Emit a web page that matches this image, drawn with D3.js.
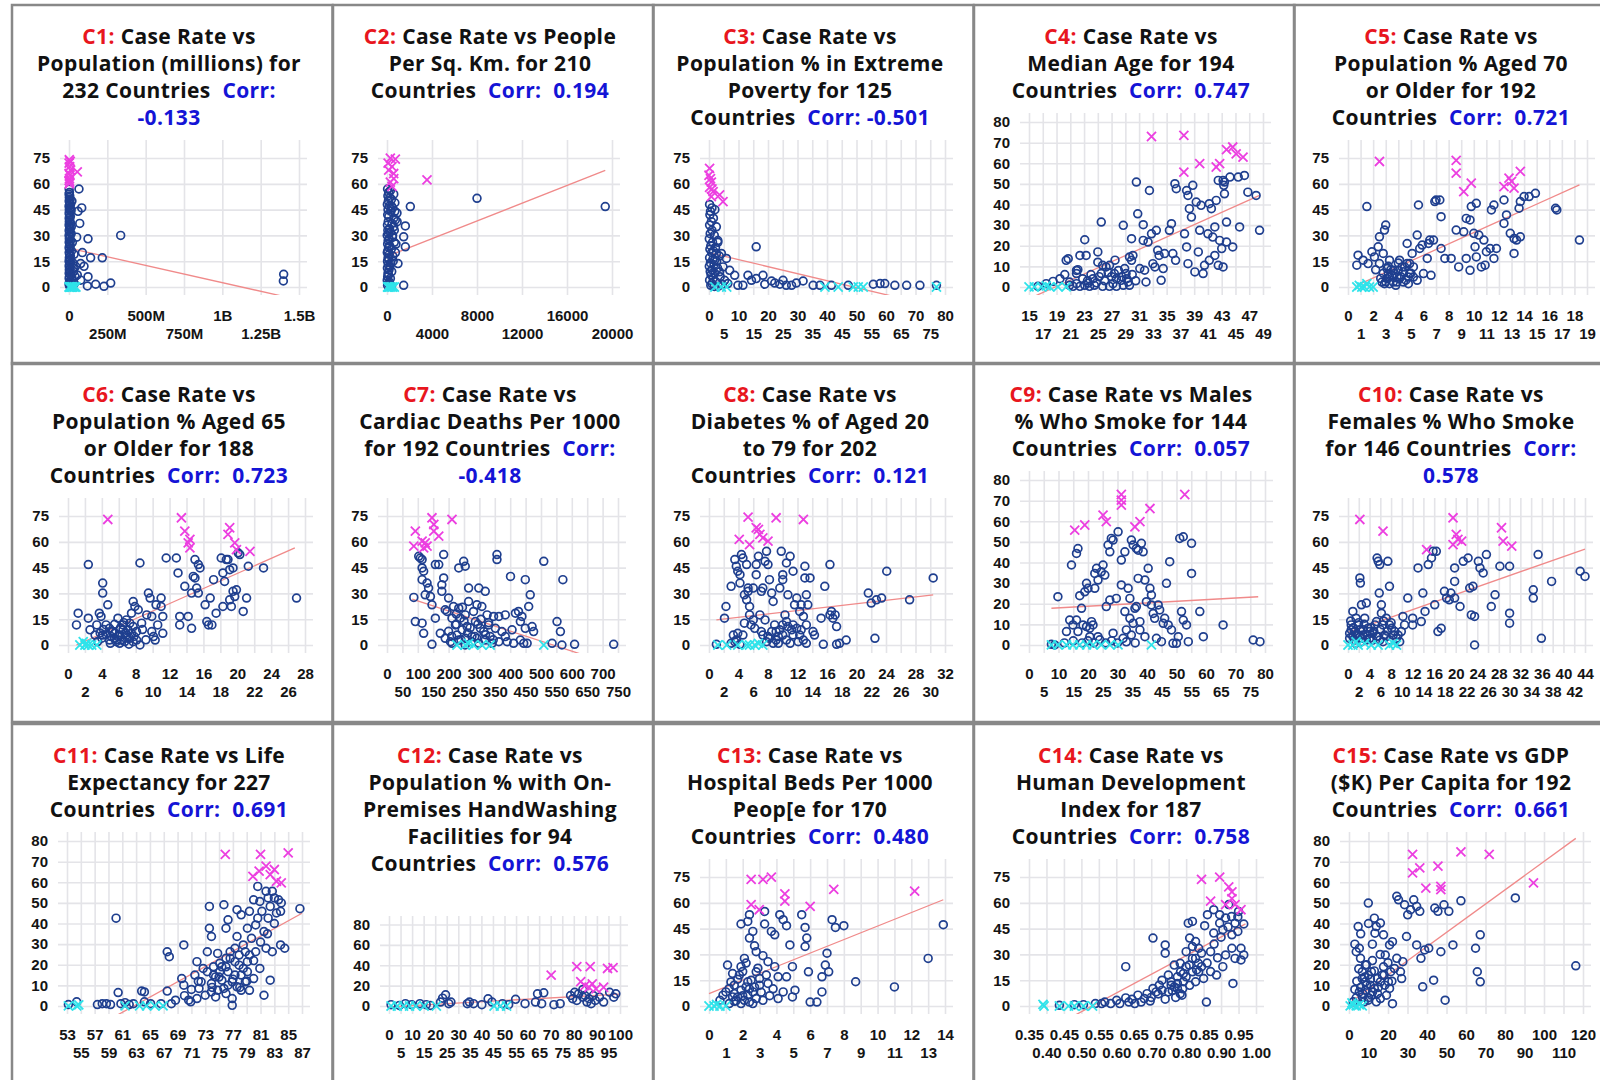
<!DOCTYPE html>
<html><head><meta charset="utf-8">
<script src="https://cdn.jsdelivr.net/npm/d3@7"></script>
<style>
body{margin:0;background:#fff}
svg{display:block}
.title{font-family:"Open Sans",sans-serif;font-weight:700;font-size:21px;letter-spacing:0.4px;white-space:pre}
</style></head><body><svg id="chart" width="1600" height="1080"></svg>
<script>
// ---------- DATA ----------
const yTicks75=[0,15,30,45,60,75];
const yTicks80=[0,10,20,30,40,50,60,70,80];
const yTicks12=[0,20,40,60,80];

const c1XTicks=[0,250,500,750,1000,1250,1500];
const c1XLabels=["0","250M","500M","750M","1B","1.25B","1.5B"];
const c2XTicks=[0,4000,8000,12000,16000,20000];
const c3XTicks=[0,5,10,15,20,25,30,35,40,45,50,55,60,65,70,75,80];
const c4XTicks=[15,17,19,21,23,25,27,29,31,33,35,37,39,41,43,45,47,49];
const c5XTicks=[0,1,2,3,4,5,6,7,8,9,10,11,12,13,14,15,16,17,18,19];
const c6XTicks=[0,2,4,6,8,10,12,14,16,18,20,22,24,26,28];
const c7XTicks=[0,50,100,150,200,250,300,350,400,450,500,550,600,650,700,750];
const c8XTicks=[0,2,4,6,8,10,12,14,16,18,20,22,24,26,28,30,32];
const c9XTicks=[0,5,10,15,20,25,30,35,40,45,50,55,60,65,70,75,80];
const c10XTicks=[0,2,4,6,8,10,12,14,16,18,20,22,24,26,28,30,32,34,36,38,40,42,44];
const c11XTicks=[53,55,57,59,61,63,65,67,69,71,73,75,77,79,81,83,85,87];
const c12XTicks=[0,5,10,15,20,25,30,35,40,45,50,55,60,65,70,75,80,85,90,95,100];
const c13XTicks=[0,1,2,3,4,5,6,7,8,9,10,11,12,13,14];
const c14XTicks=[0.35,0.40,0.45,0.50,0.55,0.60,0.65,0.70,0.75,0.80,0.85,0.90,0.95,1.00];
const c14XLabels=["0.35","0.40","0.45","0.50","0.55","0.60","0.65","0.70","0.75","0.80","0.85","0.90","0.95","1.00"];
const c15XTicks=[0,10,20,30,40,50,60,70,80,90,100,110,120];

const titles=[
 ["C1: Case Rate vs","Population (millions) for","232 Countries  Corr:","-0.133"],
 ["C2: Case Rate vs People","Per Sq. Km. for 210","Countries  Corr:  0.194"],
 ["C3: Case Rate vs","Population % in Extreme","Poverty for 125","Countries  Corr: -0.501"],
 ["C4: Case Rate vs","Median Age for 194","Countries  Corr:  0.747"],
 ["C5: Case Rate vs","Population % Aged 70","or Older for 192","Countries  Corr:  0.721"],
 ["C6: Case Rate vs","Population % Aged 65","or Older for 188","Countries  Corr:  0.723"],
 ["C7: Case Rate vs","Cardiac Deaths Per 1000","for 192 Countries  Corr:","-0.418"],
 ["C8: Case Rate vs","Diabetes % of Aged 20","to 79 for 202","Countries  Corr:  0.121"],
 ["C9: Case Rate vs Males","% Who Smoke for 144","Countries  Corr:  0.057"],
 ["C10: Case Rate vs","Females % Who Smoke","for 146 Countries  Corr:","0.578"],
 ["C11: Case Rate vs Life","Expectancy for 227","Countries  Corr:  0.691"],
 ["C12: Case Rate vs","Population % with On-","Premises HandWashing","Facilities for 94","Countries  Corr:  0.576"],
 ["C13: Case Rate vs","Hospital Beds Per 1000","Peop[e for 170","Countries  Corr:  0.480"],
 ["C14: Case Rate vs","Human Development","Index for 187","Countries  Corr:  0.758"],
 ["C15: Case Rate vs GDP","($K) Per Capita for 192","Countries  Corr:  0.661"]
];

// C1 population (millions)
const c1Blue=[[1,57],[3,55],[0.5,54],[5,53],[2,52],[8,51],[1,50],[4,49],[10,48],[0.3,47],[6,46],[2,45],[12,44],[0.8,43],[3,42],[9,41],[1,40],[5,39],[2,38],[11,37],[0.6,36],[4,35],[7,34],[1,33],[3,32],[14,31],[0.4,30],[6,29],[2,28],[10,27],[1,26],[5,25],[8,24],[0.7,23],[3,22],[16,21],[1,20],[4,19],[9,18],[2,17],[6,16],[0.5,15],[12,14],[3,13],[1,12],[7,11],[2,10],[5,9],[0.9,8],[11,7],[3,6],[1,5],[18,4],[4,3],[0.6,2],[8,1.5],[2,1],[6,0.5],[25,14],[30,9],[20,5],[35,2],[28,11],[22,26],[15,35],[33,19],[40,6],[13,45],[19,50],
 [65,57],[83,46],[59,44],[70,37],[50,29],[124,28],[87,20],[141,17],[217,17],[337,30],[98,12],[124,6],[120,0.6],[174,1.6],[228,0.4],[272,2.3],[76,4],[76,13.6],[43,12],[54,7],[1400,7.4],[1398,3.5]];
const c1Mag=[[2,74],[8,73],[1,72],[4,70],[10,68],[0.5,66],[6,65],[3,63],[1,62],[5,61],[2,60],[54,67]];
const c1Cyan=[[1,0],[5,0],[10,0],[15,0],[25,0],[35,0],[45,0],[20,0],[3,0]];
const c1Fit=[0,22.6,1500,-7.5];

// C2 people per sq km
const c2Blue=[[50,57],[300,56],[150,55],[600,54],[80,53],[250,52],[400,51],[120,50],[700,49],[30,48],[200,47],[500,46],[90,45],[350,44],[889,43],[60,42],[160,41],[741,39],[110,38],[450,37],[40,36],[593,35],[220,34],[75,33],[300,32],[130,31],[20,30],[480,29],[180,28],[100,27],[650,26],[55,25],[240,24],[140,23],[380,22],[70,21],[25,20],[200,19],[520,18],[95,17],[160,16],[45,15],[330,14],[978,13.6],[110,13],[260,12],[35,11],[180,10],[420,9],[85,8],[140,7],[60,6],[300,5],[20,4],[200,3],[120,2],[50,1],[400,0.5],[1481,1],[2074,46.8],[1630,35.5],[1481,29.2],[1630,23.4],[8000,51.6],[19400,46.8],[600,40],[700,44],[500,30],[800,25],[400,47],[650,33],[900,38],[550,15],[750,20]];
const c2Mag=[[296,75],[741,74.4],[444,70],[593,66],[296,61],[444,58.5],[150,68],[600,63],[3556,62.3],[100,72]];
const c2Cyan=[[50,0],[200,0],[350,0],[500,0],[120,0],[650,0]];
const c2Fit=[0,17.8,19400,67.8];

// C3 extreme poverty %
const c3Blue=[[0.2,48],[1,46],[0.5,44],[2,45],[0.3,42],[1.5,40],[0.8,38],[0.2,36],[2.5,35],[1,33],[0.4,31],[1.8,30],[0.1,28],[3,27],[1.2,26],[0.6,24],[2.2,23],[0.3,22],[1.5,21],[0.9,20],[3.5,18],[0.2,17],[1.3,16],[2.6,15],[0.5,14],[1.7,13],[0.1,12],[2.9,11],[1,10],[0.4,9],[2,8],[0.7,7],[3.8,6],[1.4,5],[0.2,4],[2.4,3],[1,2],[0.6,1],[3.2,0.5],[1.8,0.3],[4.5,1.5],
 [3,26],[5.9,16.6],[4.75,11.7],[7,9.7],[8.7,6.8],[9.8,1],[11.5,1],[13.2,6.8],[14.4,3.9],[16,23.4],[16,4.9],[18.3,6.8],[18.9,1.6],[21.2,3.5],[22.3,2.3],[24,1.6],[25.1,3.9],[26.2,1],[28,1],[29.6,2.3],[31.9,3.5],[35.3,1],[37.6,1],[41.5,1],[47.2,1],[55.7,1.6],[58,2],[59.6,2],[63,1],[67,1],[71.5,1],[77.1,1],[5.3,3.9],[6.4,2],[3.6,8.8],[2.5,19.5],[1.9,15.6],[4.2,19.5]];
const c3Mag=[[0.2,69],[0,65],[0.8,61],[0.2,58],[1.4,55.5],[3.6,53.6],[4.75,49.7],[0.8,52.6],[0.5,63],[1,57]];
const c3Cyan=[[4.2,0],[39.3,0],[43.8,0],[48.9,0],[50.6,0],[52.3,0],[77.1,0],[2,0],[6,0]];
const c3Fit=[0,20,77,-11.4];

// C4 median age
const c4Blue=[[16.3,0.3],[17.5,1.6],[18.5,2.7],[19.5,4],[20.2,6],[20.4,12.9],[20.7,13.7],[21.9,6.5],[21.9,8],[22.1,8.4],[23.1,22.9],[22.4,15.3],[23.3,15.3],[22.8,4],[23.6,1.9],[23.1,0.8],[24.3,4],[25,17],[25.5,31.5],[25.5,6.5],[25.7,10.5],[26.2,9.7],[26.7,10.5],[27.2,1.6],[27.4,6.5],[27.7,4],[28.4,3.2],[28.7,29.9],[28.9,8.9],[29.1,6.5],[29.4,2.4],[29.6,14.5],[29.9,12.9],[30.1,15.3],[29.9,23.4],[30.6,50.9],[30.8,35.5],[31.1,8.9],[31.6,22.6],[31.6,30.2],[31.8,8.1],[32,2.4],[32.3,21.8],[32.5,46.8],[32.8,25.8],[33,11.3],[33.3,9.7],[33.5,27.5],[33.7,17.8],[33.9,15.3],[34.2,3.2],[34.5,8.9],[34.7,16.2],[35.4,27.5],[35.7,30.7],[35.9,16.2],[36.2,50.1],[36.4,47.7],[36.3,12.9],[37.6,25.8],[37.9,19.4],[37.9,46.8],[38.1,44.4],[38.1,11.3],[38.3,38],[38.6,33.9],[38.8,49.3],[39.1,7.3],[39.3,41.2],[39.6,17],[39.8,27.5],[40,39.6],[40.3,6.5],[40.5,10.5],[41,25.8],[41.2,40.4],[41.2,12.9],[41.5,38],[41.7,24.2],[42,15.3],[42.2,42],[42.5,51.7],[42.5,10.5],[42.7,22.6],[43,18.6],[43.2,9.7],[43.3,49.3],[43.4,50.9],[43.4,45.2],[43.7,31.5],[43.7,21.8],[44.2,53.3],[44.6,19.4],[45.4,53.3],[45.6,29.1],[46.3,54.1],[46.8,46],[48,44.4],[48.5,27.5],[43.2,51.7],[42,29.1],
 [20.9,0.8],[21.4,0.3],[22.4,0.3],[23.8,0.3],[24.5,0.8],[25.7,0.3],[26.7,0.3],[27.7,0.3],[28.7,0.8],[29.6,0.8],[20.9,2.4],[21.9,1.6],
 [23.5,3],[24,6],[24.8,2],[25.2,5],[26,3],[26.5,7],[27,5],[28,8],[28.5,5],[29.2,4],[30,6],[30.5,3],[25,12],[27.5,13]];
const c4Mag=[[32.8,73],[37.5,73.5],[37.5,55.7],[39.8,59.8],[42.2,58.2],[42.7,59.8],[43.7,66.6],[44.6,67.9],[45.1,64.6],[46.1,63]];
const c4Cyan=[[15,0],[15.8,0],[16.8,0],[18,0],[19.2,0],[20.4,0],[17.5,0.5]];
const c4Fit=[15.2,-5.4,48.5,44.4];

// C5 aged 70+
const c5Blue=[[0.7,12.7],[0.8,18.5],[1.5,46.8],[1.2,15.6],[1.6,13.6],[1.9,20.5],[2.1,17.5],[2.4,23.4],[2.5,29.2],[2.5,13.6],[2.9,33.1],[3,36],[2.8,19.5],[3.1,10.7],[3.3,15.6],[3.6,9.7],[3.3,5.8],[3.9,2.9],[4.1,15.6],[4.3,11.7],[4.4,8.8],[4.7,25.3],[4.8,5.8],[4.9,13.6],[5.1,19.5],[5.2,11.7],[5.5,3.9],[5.6,47.7],[5.5,30.2],[5.7,22.4],[5.9,24.4],[6,7.8],[6.3,16.6],[6.4,25.3],[6.5,27.3],[6.6,6.8],[6.8,27.3],[6.9,49.7],[7,50.6],[7.3,50.6],[7.4,40.9],[7.4,22.4],[7.7,16.6],[8.2,16.6],[8.6,33.1],[8.8,11.7],[9.2,32.1],[9.4,16.6],[9.7,9.7],[9.8,46.8],[9.4,39.9],[9.7,39],[10,31.2],[10.1,23.4],[10.2,48.7],[10.2,17.5],[10.4,30.2],[10.6,11.7],[10.8,27.3],[10.9,12.7],[11,20.5],[11.3,22.4],[11.4,44.8],[11.6,47.7],[11.6,16.6],[11.8,22.4],[12.4,50.6],[12.4,37],[12.6,41.9],[12.9,31.2],[13.2,28.2],[13.2,19.5],[13.4,27.3],[13.6,45.8],[13.7,29.2],[13.7,49.7],[14,52.6],[14.4,52.6],[14.9,54.5],[16.5,45.8],[16.6,44.8],[18.4,27.3],
 [3.1,4.9],[3.3,1.9],[3.6,2.9],[3.9,5.8],[4.1,4.9],[4.4,2.9],[4.8,1.9],[2.7,2.9],[2.9,1.9],[3.2,7.8],[3.5,6.8],[3.7,7.8],[4,9.7],[4.5,11.7],[4.7,13.6],[4.9,7.8],[5.2,5.8],
 [2.6,5],[2.8,8],[3,3],[3.4,10],[3.8,1],[4.2,6],[4.6,4],[5,8],[3.2,12],[2.2,10],[4,14]];
const c5Mag=[[2.5,73],[8.6,73.6],[8.6,66.2],[9.2,55.5],[9.8,60.4],[12.4,58.4],[12.8,63.3],[13,61.4],[13.2,57.5],[13.7,67.2]];
const c5Cyan=[[0.7,0],[1.1,0],[1.3,0],[1.7,0],[2,0],[1.5,2],[0.9,1]];
const c5Fit=[0.7,1,18.4,59.4];

// C6 aged 65+
const c6Blue=[[1.2,18.5],[1,11.7],[2.4,46.8],[2.4,15.6],[2.6,8.8],[3.7,18.5],[3.9,16.6],[4.1,36],[4.1,30.2],[4.7,23.4],[3.4,11.7],[3.2,5.8],[4.1,5.8],[4.5,11.7],[4.9,9.7],[5.3,7.8],[5.5,3.9],[5.9,15.6],[6.1,5.8],[6.5,11.7],[6.7,2],[6.9,14.6],[7.1,8.8],[7.3,12.7],[7.5,18.5],[7.7,25.3],[7.9,22.4],[8.1,7.8],[8.1,2.9],[8.3,20.5],[8.5,47.7],[8.7,12.7],[9.3,17.5],[9.5,30.2],[9.7,27.3],[9.9,7.8],[9.9,16.6],[10.1,4.9],[10.3,2.9],[10.4,23.4],[10.6,11.7],[11,27.3],[11,22.4],[11.2,16.6],[11.2,6.8],[11.6,50.6],[12.8,50.6],[13,41.9],[13.2,11.7],[13.2,16.6],[13.8,34.1],[14.2,16.6],[14.6,9.7],[14.6,30.2],[14.8,39.9],[15,49.7],[15,39],[15.2,33.1],[15.4,46.8],[15.4,30.2],[15.6,44.8],[16.2,23.4],[16.4,13.6],[16.6,11.7],[16.8,27.3],[17,11.7],[17.2,38],[17.5,18.5],[18.1,50.6],[18.3,41.9],[18.3,22.4],[18.5,37],[18.7,49.7],[18.9,49.7],[19.1,43.8],[19.1,26.3],[19.3,22.4],[19.5,44.8],[19.5,31.2],[19.7,28.2],[19.9,32.1],[20.1,53.6],[20.3,52.6],[20.7,19.5],[21.1,27.3],[21.3,45.8],[23.1,44.8],[27,27.3],
 [4.9,2.9],[5.7,1.9],[5.9,4.9],[6.3,2.9],[6.5,8.8],[6.9,5.8],[7.3,3.9],[7.7,1.9],[7.5,6.8],[5.5,6.8],[5.1,4.9],[6.1,1],[7.7,10.7],[8.5,0],
 [3.5,2],[4,4],[4.5,6],[5,1],[5.2,8],[5.8,3],[6.2,10],[6.8,7],[7,4],[7.2,0.5],[4.2,9],[3.8,7],[5.5,12],[6.6,13],[7.8,5],[8.8,9],[9.2,3]];
const c6Mag=[[4.7,73],[13.4,74],[13.8,66.2],[14.4,61.4],[14.4,56.5],[14.2,59.4],[19.1,68.2],[18.9,64.3],[19.7,59.4],[19.9,55.5],[21.5,54.5]];
const c6Cyan=[[1.4,0],[2,0],[2.4,0],[2.8,0],[1.8,2],[3.4,0],[2.2,1]];
const c6Fit=[1,0,26.8,56.5];

// C7 cardiac deaths
const c7Blue=[[87,27.7],[92,13.6],[103,51.6],[108,50.6],[114,49.7],[114,44.8],[119,42.9],[114,38],[124,29.2],[119,6.8],[114,12.7],[130,36],[135,33.1],[141,28.2],[146,23.4],[146,0.4],[157,46.8],[157,15.6],[168,46.8],[173,6.8],[178,31.2],[178,35],[184,52.6],[184,39],[189,20.5],[195,19.5],[200,27.3],[206,1.9],[211,15.6],[216,22.4],[222,11.7],[227,5.8],[233,44.8],[233,21.4],[238,15.6],[244,8.8],[249,48.7],[254,45.8],[254,17.5],[260,10.7],[265,25.3],[265,33.1],[276,4.9],[281,19.5],[287,13.6],[292,23.4],[298,33.1],[303,9.7],[308,22.4],[314,7.8],[319,31.2],[325,17.5],[330,11.7],[335,4.9],[346,16.6],[352,9.7],[357,52.6],[357,49.7],[363,16.6],[373,7.8],[384,17.5],[390,1.9],[401,39.9],[406,8.8],[417,18.5],[427,19.5],[433,13.6],[438,16.6],[449,38],[449,9.7],[455,1],[460,22.4],[465,29.2],[471,10.7],[476,7.8],[509,48.7],[536,1],[552,13.6],[563,7.8],[568,0],[571,38],[609,0.4],[736,0.4],
 [189,3.9],[211,1],[233,2.9],[254,3.9],[276,1.9],[298,1],[319,2.9],[341,1],[363,1.9],[384,4.9],[411,1],[433,2.9],[444,1],[254,0],[292,3.9],
 [200,8],[210,5],[225,12],[240,3],[250,14],[262,7],[270,10],[285,5],[295,12],[305,15],[320,6],[330,13],[345,3],[225,18],[245,22]];
const c7Mag=[[92,66.2],[87,57.5],[124,59.4],[114,60.4],[130,57.5],[146,74],[152,70.1],[152,66.2],[168,63.3],[211,73],[119,56.5]];
const c7Cyan=[[227,0],[254,0],[281,0],[308,0],[335,0],[509,0],[265,1]];
const c7Fit=[82,26.7,736,-11.5];

// C8 diabetes %
const c8Blue=[[1,0.4],[2.1,15.6],[2.3,22.4],[3,34.1],[3.5,49.7],[3.7,45.8],[3.9,42.9],[4.2,40.9],[4.2,36],[4.4,52.6],[4.6,50.6],[4.8,12.7],[4.8,29.2],[5.1,26.3],[5.1,46.8],[5.3,33.1],[5.3,31.2],[5.5,22.4],[5.5,17.5],[5.7,11.7],[6,33.1],[6,14.6],[6.2,9.7],[6.4,46.8],[6.4,40.9],[6.7,51.6],[6.9,17.5],[7.1,31.2],[7.1,7.8],[7.3,33.1],[7.6,48.7],[7.6,14.6],[7.8,54.5],[8,46.8],[8.2,38],[8.5,30.2],[8.7,25.3],[8.9,11.7],[9.1,7.8],[9.4,4.9],[9.6,33.1],[9.8,54.5],[10,40.9],[10,38],[10.3,17.5],[10.5,47.7],[10.5,13.6],[10.7,29.2],[11,51.6],[11.2,8.8],[11.4,11.7],[11.4,42.9],[11.6,23.4],[11.9,27.3],[12.1,1.9],[12.3,19.5],[12.5,23.4],[12.8,16.6],[13,39],[13,45.8],[13.2,29.2],[13.2,11.7],[13.4,23.4],[13.7,39],[14.1,7.8],[14.3,5.8],[15.7,34.1],[15.2,15.6],[15.5,0.4],[16.4,46.8],[16.4,17.5],[16.6,19.5],[16.8,15.6],[17.1,17.5],[17.3,10.7],[17.3,0.4],[17.7,1],[18.6,2.9],[21.6,30.2],[22,24.4],[22.7,26.3],[22.5,3.9],[23.4,27.3],[24.1,42.9],[27.2,26.3],[30.4,39],
 [7.3,5.8],[7.8,1.9],[8.2,3.9],[8.7,1],[9.1,2.9],[9.6,8.8],[10,5.8],[10.5,2.9],[11,1],[11.4,5.8],[11.9,9.7],[12.3,5.8],[12.8,2.9],[13.2,1],[10,11.7],[10.7,10.7],[9.4,1],[8.5,7.8],[8,4.9],[12.5,8.8],[3,1],[3.5,1.9],[3.7,2.9],[4.2,0.4],[4.6,5.8],[3.3,5.8],[3.9,6.8]];
const c8Mag=[[4.1,61.4],[5.3,74.4],[5.5,58.4],[6.4,68.2],[6.7,67.2],[6.9,64.3],[7.3,62.3],[8,60.4],[9.1,74],[12.8,73]];
const c8Cyan=[[1.2,0],[2.4,0],[3.9,0],[5.1,0],[5.5,0],[6.2,0],[6.7,1],[7.3,0]];
const c8Fit=[1,14.6,30.4,29.2];

// C9 males who smoke %
const c9Blue=[[7.6,0.3],[8.7,0],[9.8,23.4],[12.7,6.5],[13.8,12.1],[14.4,38.8],[14.9,9.7],[16.1,12.1],[16.1,44.4],[16.6,46.8],[16.6,6.5],[17.2,23.9],[17.8,17.8],[18.3,9.7],[18.9,25.8],[19.5,29.9],[19.5,8.9],[20,27.5],[20.6,8.1],[20.6,4],[21.2,11.3],[21.7,9.7],[22.3,34.7],[22.3,27.5],[22.9,37.2],[23.4,31.5],[23.4,4],[24.5,35.5],[25.1,38.8],[25.7,33.9],[26.2,18.6],[26.8,48.5],[27.4,45.2],[27.4,21.8],[27.9,51.7],[28.5,50.9],[28.5,5.7],[29.6,22.6],[30.2,54.9],[31.3,41.2],[31.3,29.1],[31.9,3.2],[32.5,45.2],[32.5,16.2],[33,7.3],[33.6,27.5],[34.2,22.6],[34.2,12.9],[34.7,4.8],[34.7,50.9],[35.3,10.5],[35.3,48.5],[35.9,17.8],[36.4,46.8],[36.4,18.6],[37,46],[37,32.3],[37.6,11.3],[37.6,7.3],[38.1,49.3],[38.7,45.2],[39.3,31.5],[39.3,4],[39.8,21],[40.4,37.2],[41,27.5],[41.5,24.2],[41.5,19.4],[42.1,15.3],[42.6,12.9],[43.2,3.2],[43.8,19.4],[44.3,17],[44.9,1.6],[45.5,10.5],[46,12.9],[46.6,29.9],[47.2,9.7],[47.7,40.4],[48.3,7.3],[48.8,0.8],[50,0.8],[50.6,4],[51.1,51.7],[52.3,52.5],[51.7,16.2],[52.3,12.1],[53.4,9.7],[55.1,49.3],[55.1,34.7],[54,1.6],[57.9,16.2],[59.1,4],[65.8,9.7],[76,2.4],[78.3,1.6],
 [18,1],[20,2],[22,1],[24,2.5],[26,1],[28,2],[30,1],[33,1.5],[36,1],[12,1],[15,2]];
const c9Mag=[[15.5,55.7],[18.9,58.2],[25.1,63],[26.2,59.8],[31.3,73],[31.3,70.3],[31.3,67.9],[35.9,57.3],[37.6,59.8],[41,66.2],[52.8,73]];
const c9Cyan=[[7.6,0],[9.8,0],[12.7,0],[14.9,0],[17.2,0],[19.5,0],[21.7,0],[24.5,0],[27.4,0],[30.2,0],[41.5,0]];
const c9Fit=[7.6,17.8,77.7,23.4];

// C10 females who smoke %
const c10Blue=[[0.3,3.9],[0.6,8.8],[0.9,19.5],[1.2,7.8],[1.5,15.6],[1.9,11.7],[2.2,39],[2.3,36],[2.5,23.4],[2.8,8.8],[3.1,15.6],[3.4,24.4],[3.7,9.7],[4,3.9],[4.6,2.9],[5,11.7],[5.3,13.6],[5.4,50.6],[5.6,48.7],[5.9,46.8],[5.8,30.2],[6.2,23.4],[6.2,18.5],[6.5,11.7],[6.8,5.8],[7.1,15.6],[7.4,48.7],[7.7,34.1],[7.7,11.7],[8.1,9.7],[8.7,7.8],[9.3,5.8],[9.9,7.8],[10.2,16.6],[10.5,11.7],[11.1,27.3],[12,15.6],[12,11.7],[13,44.8],[13.6,13.6],[13.9,30.2],[14.3,19.5],[14.9,46.8],[15.5,50.6],[15.8,54.5],[16.1,23.4],[16.4,54.5],[16.7,7.8],[17.3,9.7],[17.9,31.2],[18.3,27.3],[18.8,26.3],[19.1,30.2],[19.8,44.8],[19.8,37],[19.8,27.3],[20.8,22.4],[21.4,48.7],[22.3,50.6],[22.6,33.1],[22.9,17.5],[23.2,34.1],[23.5,16.6],[23.5,0],[24.2,48.7],[24.5,44.8],[25.1,41.9],[25.7,52.6],[26.6,22.4],[27.3,29.2],[28.2,45.8],[30,45.8],[30,18.5],[30,12.7],[34.4,27.3],[34.4,32.1],[35.3,52.6],[35.9,3.9],[37.8,37],[43.1,42.9],[44,39.9],
 [0.3,6.8],[0.6,11.7],[0.9,4.9],[1.2,2.9],[1.9,5.8],[2.2,8.8],[2.5,1.9],[2.8,5.8],[3.4,2.9],[4,7.8],[4.6,6.8],[5.3,4.9],[5.9,2.9],[6.5,1.9],[7.1,4.9],[7.7,2.9],[8.4,5.8],[9,3.9],[9.6,1.9],
 [1,10],[1.6,6],[2,13],[2.6,4],[3,12],[3.6,6],[4.2,10],[4.8,8],[5.5,5],[6,9],[6.6,14],[7.3,8],[8,13],[0.5,14],[1.4,1]];
const c10Mag=[[2.2,73],[6.5,66.2],[14.6,55.5],[19.5,74],[19.5,58.4],[20.1,64.3],[20.4,61.4],[21.1,60.4],[28.5,68.2],[28.8,60.4],[30.4,57.5]];
const c10Cyan=[[0,0],[0.9,0],[1.9,0],[3.1,1],[4.3,0],[5.6,0],[7.7,0],[9,0],[8.4,1],[1.5,2]];
const c10Fit=[0,7.4,44,55.8];

// C11 life expectancy
const c11Blue=[[53.2,0.7],[54.4,2],[57.4,0.7],[58.1,1.1],[58.7,1.1],[59.3,0.7],[60.1,42.6],[60.4,6.5],[60.8,1.1],[61.4,1.6],[62,0.7],[62.6,1.1],[63.8,7.2],[64.2,6.8],[64.2,2],[65.1,1.1],[66.6,1.1],[67.5,7.2],[67.5,26.3],[67.8,23.9],[68.1,1.1],[68.7,2.8],[69.6,13.3],[69.9,29.6],[69.9,10.1],[70.6,2.8],[70.9,2],[71.5,15],[71.8,21.5],[71.8,3.6],[72.1,8.5],[72.4,11.7],[72.7,18.2],[73,5.2],[73.3,26.3],[73.3,16.6],[73.6,48.3],[73.6,37.7],[73.9,33.7],[73.9,10.9],[74.2,19],[74.5,14.1],[74.5,4.4],[74.8,25.5],[75.1,16.6],[75.4,12.5],[75.7,49.1],[76,37.7],[76,19],[76.3,10.1],[76.3,41.8],[76.6,23.1],[76.9,3.6],[76.9,0.3],[77.3,28],[77.3,15],[77.6,33.7],[77.6,46.7],[77.9,19.8],[78.2,44.2],[78.2,7.6],[78.5,29.6],[78.8,26.3],[79.1,37.7],[79.1,16.6],[79.4,24.7],[79.4,45.9],[79.7,32.8],[80,51.5],[80,13.3],[80.3,39.3],[80.3,26.3],[80.6,58],[80.6,42.6],[80.9,18.2],[80.9,50.7],[81.2,45.9],[81.5,5.2],[81.5,36.1],[81.8,55.6],[81.8,28],[82.1,52.4],[82.1,42.6],[82.4,48.3],[82.4,12.5],[82.7,55.6],[82.7,26.3],[83,52.4],[83.3,45.1],[83.6,51.5],[83.9,45.9],[83.9,29.6],[84.5,28],[86.7,47.2],
 [73.9,6.8],[74.8,7.6],[75.4,19],[75.7,8.5],[76.3,16.6],[76.9,11.7],[77.6,9.3],[78.2,15],[78.8,11.7],[79.4,7.6],[74.2,15],[75.1,20.7],[76,23.1],[76.6,26.3],[77.3,21.5],[77.9,24.7],[78.5,18.2],[79.1,21.5],
 [72,12],[74,9],[75,14],[76,6],[77,13],[78,9],[79,12],[80,22],[81,31],[82,35],[83,40],[84,50],[70,5],[71,8]];
const c11Mag=[[75.9,73.5],[81,73.5],[79.9,62.9],[80.8,65.4],[81.8,67.8],[82.4,63.7],[83,66.2],[83.3,60.5],[84,59.7],[85,74.3]];
const c11Cyan=[[53.2,0],[54.4,0],[54.7,0.5],[61.4,0],[63.5,0],[64.5,0],[65.7,0],[66.9,0]];
const c11Fit=[53,-17.9,87,45];

// C12 handwashing facilities %
const c12Blue=[[0.9,1.3],[4.5,0.6],[7.1,2.3],[9.8,1.3],[13.4,2.3],[16.1,1.3],[17.9,0.6],[22.3,3.9],[23.2,7.7],[24.5,11],[25.9,2.3],[26.8,3.9],[33.9,2.3],[34.8,3.9],[36.6,2.3],[40.2,1.3],[42.9,7.1],[44.6,3.9],[49.1,2.3],[51.8,1.3],[54.8,6.5],[58.9,2.3],[63.4,3.9],[64.3,11.9],[67,12.9],[66.1,2.3],[71.4,1.3],[74.1,2.3],[78.6,10.3],[79.5,7.1],[81.3,5.5],[82.1,11.9],[83.9,8.7],[85.7,3.9],[86.6,7.1],[87.5,2.3],[88.4,10.3],[89.3,5.5],[91.1,8.7],[92.9,3.9],[95.5,13.5],[97.3,8.7],[98.2,11.9],[83.9,16.1],[84.8,10.3],[80.4,13.5]];
const c12Mag=[[70.2,30.3],[81.3,38.7],[87.1,38.7],[83,23.9],[84.8,20],[86.6,18.4],[88,21.6],[89.6,16.8],[92.9,18.4],[94.6,36.8],[97,37.7]];
const c12Cyan=[[0.9,0],[3.6,0],[6.3,0],[8.9,0],[11.6,0],[15.2,0],[20.5,0],[45.5,0],[48.2,0],[50.9,0]];
const c12Fit=[0,-0.8,100,11.7];

// C13 hospital beds per 1000
const c13Blue=[[1.1,23.8],[1,8.2],[1.4,18.9],[1.5,12.1],[1.4,5.3],[1.7,15.6],[1.9,22.9],[2.1,27.7],[2.2,11.1],[1.9,47.7],[2.3,49.2],[2.4,39.5],[2.4,53.1],[2.6,43.4],[2.8,31.6],[2.8,19.9],[3,16],[3,12.1],[3.2,29.3],[3.2,3.3],[3.3,55],[3.3,47.7],[3.5,25.8],[3.5,13.1],[3.7,43.4],[3.9,41.4],[3.9,22.9],[4.1,17],[4.1,4.3],[4.2,53.1],[4.4,50.2],[4.4,8.2],[4.6,46.7],[4.6,17],[4.8,35.5],[4.95,22.9],[4.95,5.3],[5.1,9.2],[5.5,53.1],[5.7,45.7],[5.8,39.5],[5.7,34.6],[5.9,19.9],[6,2.3],[6.4,2.3],[6.7,8.2],[6.7,17],[6.9,23.8],[7,30.7],[7.1,19.9],[7.3,50.2],[7.5,45.7],[8,46.7],[8.7,14.1],[11,11.1],[13,27.7],[13.9,47.3],
 [0.65,3.3],[0.83,6.3],[1.2,1.4],[1.5,2.7],[1.7,5.3],[1.9,1.4],[2.1,3.3],[2.3,6.3],[2.4,2.3],[2.6,8.2],[1.9,9.2],[2.3,14.1],[2.6,1.4],[2.8,4.3],[1.2,10.2],[1.5,7.2],
 [1.8,18],[2,20],[2.2,25],[2.5,15],[2.7,11],[2.9,22],[3.1,8],[3.4,18],[1.6,3],[2,6],[2.4,10],[3.6,6],[3.8,10],[1.3,14],[2.7,35]];
const c13Mag=[[2.5,73.6],[3.2,73.6],[3.7,75],[2.5,59],[2.98,56],[4.5,65.2],[4.5,61],[6,58],[7.4,67.8],[12.2,66.8]];
const c13Cyan=[[0,0],[0.3,0],[0.65,0],[1,0],[0.45,1]];
const c13Fit=[0,7.2,13.9,61.8];

// C14 human development index
const c14Blue=[[0.437,0.4],[0.48,0.8],[0.506,0.8],[0.54,1.4],[0.558,1.4],[0.567,2.3],[0.584,1.4],[0.601,3.3],[0.61,1.4],[0.627,4.7],[0.636,2.3],[0.645,3.9],[0.653,1.4],[0.662,6.3],[0.671,2.3],[0.68,4.3],[0.627,22.9],[0.688,7.2],[0.697,2.9],[0.705,10.2],[0.705,39.5],[0.714,8.2],[0.723,12.1],[0.731,15],[0.74,35.5],[0.74,30.7],[0.749,18],[0.749,8.2],[0.757,14.1],[0.766,23.8],[0.775,17],[0.775,10.2],[0.784,19.9],[0.788,6.3],[0.792,14.1],[0.8,22.9],[0.806,48.2],[0.81,39.5],[0.818,27.7],[0.818,49.2],[0.827,37.5],[0.836,33.6],[0.836,19.9],[0.844,22.9],[0.853,46.7],[0.858,2.3],[0.861,53.1],[0.87,31.6],[0.879,56],[0.879,42.4],[0.887,18],[0.896,53.1],[0.896,48.2],[0.905,44.4],[0.905,22.9],[0.913,51.2],[0.913,29.7],[0.922,59],[0.931,41.4],[0.931,33.6],[0.934,13.1],[0.94,48.2],[0.94,27.7],[0.948,43.4],[0.948,51.8],[0.957,33.6],[0.957,26.8],[0.965,29.7],[0.965,47.7],
 [0.731,9.2],[0.757,12.1],[0.775,13.1],[0.783,24.8],[0.792,18.9],[0.8,17],[0.809,23.8],[0.818,19.9],[0.827,14.1],[0.827,27.7],[0.766,11.1],[0.783,7.2],[0.8,31.6],[0.818,34.6],[0.835,24.8],[0.844,30.7],
 [0.7,5],[0.72,7],[0.74,4],[0.76,9],[0.77,5],[0.79,10],[0.81,12],[0.83,21],[0.85,16],[0.86,25],[0.87,20],[0.88,36],[0.89,28],[0.9,40],[0.92,46],[0.93,52],[0.95,55]];
const c14Mag=[[0.844,73.6],[0.896,75],[0.87,61],[0.922,69.3],[0.931,66.4],[0.931,62.5],[0.94,59],[0.913,59],[0.957,56]];
const c14Cyan=[[0.393,0],[0.437,0],[0.463,0],[0.48,0],[0.506,0],[0.532,0],[0.39,1]];
const c14Fit=[0.39,-15.3,0.97,47.8];

// C15 GDP ($K) per capita
const c15Blue=[[2.2,2],[3.7,3.9],[4.7,38.5],[3.7,26.3],[5.3,28],[5.9,23.1],[6.8,13.3],[8.4,19.8],[9,10.1],[9.9,49.9],[9.9,15],[11.5,16.6],[12.1,6.8],[13,42.6],[13.3,35.3],[14,38.5],[14.6,13.3],[16.1,11.7],[16.1,40.2],[17.7,34.5],[17.7,19],[18.6,24.7],[19.2,5.2],[20.8,29.6],[20.8,8.5],[22.3,31.2],[22.3,1.1],[23.3,18.2],[24.5,23.1],[24.5,53.2],[25.4,51.5],[26.4,16.6],[27,13.3],[27.6,21.5],[28.5,49.1],[29.5,33.7],[30.1,44.2],[31.6,46.7],[33.2,51.5],[34.7,48.3],[34.7,29.6],[36.3,45.9],[36.9,23.1],[37.8,9.3],[38.8,27.2],[40.9,28],[43.4,12.5],[44,47.5],[45.6,45.9],[47.1,26.3],[48.7,49.1],[49.3,2.8],[51.2,45.9],[53.3,29.6],[57.4,51],[64.9,28],[65.8,16.6],[67.3,11.7],[67.3,34.5],[85.3,52.4],[116.3,19.5],
 [5.3,6.8],[6.8,4.4],[7.8,2],[8.4,7.6],[9.9,2.8],[10.9,10.1],[11.5,5.2],[13,8.5],[14,2],[14.6,6],[16.1,3.6],[17.1,15],[18.3,10.1],[20.2,11.7],[21.4,16.6],[6.8,16.6],[8.4,11.7],
 [3,8],[4,12],[5,18],[6,9],[7,6],[8,14],[9,20],[10,4],[11,13],[12,22],[13,17],[15,9],[16,25],[18,15],[20,21],[22,12],[3,30],[6,35],[10,40],[12,30]];
const c15Mag=[[32.6,73.5],[32.6,64.6],[36.3,67],[45.6,67.8],[39.4,57.2],[47.1,58],[47.1,56.4],[57.4,74.8],[71.9,73.5],[94.6,59.7]];
const c15Cyan=[[0.6,0],[2.2,0.6],[3.7,0],[5.3,0.6],[6.8,0],[1.5,1.5]];
const c15Fit=[0,1.3,116.3,81.3];

// ---------- LAYOUT ----------
const colLeft=[12,333,653,974,1294], rowTop=[5,363,724];
const panelW=320.5, panelH=359;
const yLayouts={
  t75:{domain:[-4.65,85.5],range:[290,135],ticks:yTicks75},
  t80:{domain:[-3.9,84.4],range:[290,108],ticks:yTicks80},
  t12:{domain:[-7.85,88.3],range:[290,192],ticks:yTicks12}
};
const panels=[
 {blue:c1Blue,mag:c1Mag,cyan:c1Cyan,fit:c1Fit,xt:c1XTicks,xl:c1XLabels,px:[57,287],yt:"t75"},
 {blue:c2Blue,mag:c2Mag,cyan:c2Cyan,fit:c2Fit,xt:c2XTicks,px:[54,279],yt:"t75"},
 {blue:c3Blue,mag:c3Mag,cyan:c3Cyan,fit:c3Fit,xt:c3XTicks,px:[56,292],yt:"t75"},
 {blue:c4Blue,mag:c4Mag,cyan:c4Cyan,fit:c4Fit,xt:c4XTicks,px:[55,289],yt:"t80"},
 {blue:c5Blue,mag:c5Mag,cyan:c5Cyan,fit:c5Fit,xt:c5XTicks,px:[54,293],yt:"t75"},
 {blue:c6Blue,mag:c6Mag,cyan:c6Cyan,fit:c6Fit,xt:c6XTicks,px:[56,293],yt:"t75"},
 {blue:c7Blue,mag:c7Mag,cyan:c7Cyan,fit:c7Fit,xt:c7XTicks,px:[54,285],yt:"t75"},
 {blue:c8Blue,mag:c8Mag,cyan:c8Cyan,fit:c8Fit,xt:c8XTicks,px:[56,292],yt:"t75"},
 {blue:c9Blue,mag:c9Mag,cyan:c9Cyan,fit:c9Fit,xt:c9XTicks,px:[55,291],yt:"t80"},
 {blue:c10Blue,mag:c10Mag,cyan:c10Cyan,fit:c10Fit,xt:c10XTicks,px:[54,291],yt:"t75"},
 {blue:c11Blue,mag:c11Mag,cyan:c11Cyan,fit:c11Fit,xt:c11XTicks,px:[55,290],yt:"t80"},
 {blue:c12Blue,mag:c12Mag,cyan:c12Cyan,fit:c12Fit,xt:c12XTicks,px:[56,287],yt:"t12"},
 {blue:c13Blue,mag:c13Mag,cyan:c13Cyan,fit:c13Fit,xt:c13XTicks,px:[56,292],yt:"t75"},
 {blue:c14Blue,mag:c14Mag,cyan:c14Cyan,fit:c14Fit,xt:c14XTicks,xl:c14XLabels,px:[55,282],yt:"t75"},
 {blue:c15Blue,mag:c15Mag,cyan:c15Cyan,fit:c15Fit,xt:c15XTicks,px:[55,289],yt:"t80"}
];

const COL={blue:"#1f3f8f",mag:"#ec3fe0",cyan:"#2fe3ea",fit:"#f08a8a",grid:"#e4e4e8",border:"#888888",red:"#e8161e",corr:"#1414d6"};
const tickFont='"Liberation Sans Narrow","Arial Narrow","Liberation Sans",sans-serif';

const svg=d3.select("#chart");
svg.append("rect").attr("width",1600).attr("height",1080).attr("fill","#fff");

panels.forEach((p,i)=>{
  const col=i%5,row=Math.floor(i/5);
  const g=svg.append("g").attr("transform",`translate(${colLeft[col]},${rowTop[row]})`);
  g.append("rect").attr("width",panelW).attr("height",panelH).attr("fill","none")
   .attr("stroke",COL.border).attr("stroke-width",2.5);

  // title
  let blueOn=false;
  titles[i].forEach((line,li)=>{
    const t=g.append("text").attr("class","title").attr("x",157).attr("y",39+27*li).attr("text-anchor","middle");
    let rest=line;
    if(li===0){
      const m=line.match(/^(C\d+:)(.*)$/);
      t.append("tspan").attr("fill",COL.red).text(m[1]);
      rest=m[2];
    }
    if(blueOn){ t.append("tspan").attr("fill",COL.corr).text(rest); return; }
    const k=rest.indexOf("Corr:");
    if(k>=0){
      t.append("tspan").attr("fill","#111").text(rest.slice(0,k));
      t.append("tspan").attr("fill",COL.corr).text(rest.slice(k));
      blueOn=true;
    } else t.append("tspan").attr("fill","#111").text(rest);
  });

  const yl=yLayouts[p.yt];
  const x=d3.scaleLinear().domain([p.xt[0],p.xt[p.xt.length-1]]).range(p.px);
  const y=d3.scaleLinear().domain(yl.domain).range(yl.range);
  const xr=[p.px[0]-9,p.px[1]+8];
  const plotH=yl.range[0]-yl.range[1], plotW=xr[1]-xr[0];

  // grids
  g.append("g").attr("transform",`translate(0,${yl.range[0]})`)
   .call(d3.axisBottom(x).tickValues(p.xt).tickSize(-plotH).tickFormat(""))
   .call(s=>{s.select(".domain").remove();s.selectAll("line").attr("stroke",COL.grid).attr("stroke-width",1.6);});
  g.append("g").attr("transform",`translate(${xr[0]},0)`)
   .call(d3.axisLeft(y).tickValues(yl.ticks).tickSize(-plotW).tickFormat(""))
   .call(s=>{s.select(".domain").remove();s.selectAll("line").attr("stroke",COL.grid).attr("stroke-width",1.6);});

  // x labels (two staggered rows)
  const lab=new Map(p.xt.map((v,j)=>[v,p.xl?p.xl[j]:String(v)]));
  [0,1].forEach(r=>{
    const vals=p.xt.filter((v,j)=>j%2===r);
    g.append("g").attr("transform",`translate(0,${r===0?305.5:323})`)
     .call(d3.axisBottom(x).tickValues(vals).tickSize(0).tickPadding(0).tickFormat(d=>lab.get(d)))
     .call(s=>{s.select(".domain").remove();
       s.attr("font-family",tickFont).attr("font-size",15).attr("font-weight","bold");
       s.selectAll("text").attr("fill","#141414");});
  });
  // y labels
  g.append("g").attr("transform",`translate(${p.px[0]-19},0)`)
   .call(d3.axisLeft(y).tickValues(yl.ticks).tickSize(0).tickPadding(0))
   .call(s=>{s.select(".domain").remove();
     s.attr("font-family",tickFont).attr("font-size",15).attr("font-weight","bold");
     s.selectAll("text").attr("fill","#141414");});

  // clip
  const cid="clip"+i;
  g.append("clipPath").attr("id",cid).append("rect").attr("x",xr[0]).attr("y",yl.range[1]).attr("width",plotW).attr("height",plotH);

  // fit line
  g.append("path").attr("clip-path",`url(#${cid})`)
   .datum([[p.fit[0],p.fit[1]],[p.fit[2],p.fit[3]]])
   .attr("d",d3.line().x(d=>x(d[0])).y(d=>y(d[1])))
   .attr("stroke",COL.fit).attr("stroke-width",1.3).attr("fill","none");

  // blue circles
  g.append("g").selectAll("circle").data(p.blue).join("circle")
   .attr("cx",d=>x(d[0])).attr("cy",d=>y(d[1])).attr("r",3.9)
   .attr("fill","none").attr("stroke",COL.blue).attr("stroke-width",1.7);

  const xs=d3.symbol().type(d3.symbolX).size(55);
  g.append("g").selectAll("path").data(p.cyan).join("path")
   .attr("d",xs).attr("transform",d=>`translate(${x(d[0])},${y(d[1])})`)
   .attr("fill","none").attr("stroke",COL.cyan).attr("stroke-width",1.8);
  g.append("g").selectAll("path").data(p.mag).join("path")
   .attr("d",xs).attr("transform",d=>`translate(${x(d[0])},${y(d[1])})`)
   .attr("fill","none").attr("stroke",COL.mag).attr("stroke-width",1.8);
});
</script></body></html>
